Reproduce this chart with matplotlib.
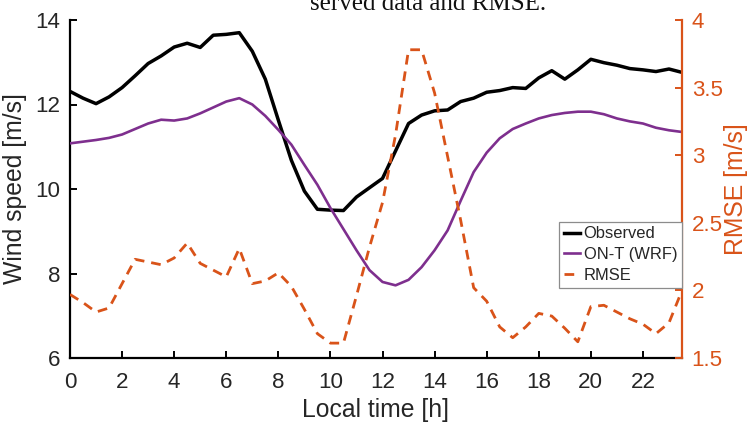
import matplotlib
matplotlib.use("Agg")
import matplotlib.pyplot as plt
from matplotlib import font_manager

names = {f.name for f in font_manager.fontManager.ttflist}
SANS = 'Liberation Sans Narrow' if 'Liberation Sans Narrow' in names else 'Liberation Sans'
NARROW = SANS == 'Liberation Sans Narrow'

# ---- data (half-hourly, local time) ----
hours = [i * 0.5 for i in range(48)]
observed = [12.31, 12.15, 12.02, 12.18, 12.40, 12.68, 12.97, 13.15, 13.36, 13.45,
            13.35, 13.64, 13.66, 13.70, 13.26, 12.60, 11.63, 10.68, 9.95, 9.52,
            9.50, 9.49, 9.81, 10.03, 10.25, 10.90, 11.55, 11.75, 11.85, 11.87,
            12.07, 12.15, 12.29, 12.33, 12.40, 12.38, 12.63, 12.80, 12.60, 12.82,
            13.07, 12.99, 12.93, 12.85, 12.82, 12.78, 12.84, 12.76]
on_t_wrf = [11.08, 11.12, 11.16, 11.21, 11.29, 11.42, 11.55, 11.64, 11.62, 11.67,
            11.79, 11.93, 12.07, 12.15, 12.00, 11.73, 11.40, 11.05, 10.57, 10.10,
            9.55, 9.05, 8.55, 8.08, 7.80, 7.72, 7.85, 8.15, 8.55, 9.02,
            9.72, 10.40, 10.86, 11.20, 11.42, 11.55, 11.67, 11.75, 11.80, 11.83,
            11.83, 11.77, 11.67, 11.60, 11.55, 11.45, 11.39, 11.35]
rmse = [1.97, 1.91, 1.84, 1.87, 2.05, 2.23, 2.21, 2.19, 2.24, 2.35,
        2.20, 2.15, 2.10, 2.31, 2.05, 2.07, 2.13, 2.03, 1.86, 1.68,
        1.61, 1.61, 1.96, 2.32, 2.65, 3.15, 3.78, 3.78, 3.46, 2.99,
        2.52, 2.02, 1.92, 1.73, 1.65, 1.73, 1.83, 1.81, 1.72, 1.62,
        1.88, 1.89, 1.84, 1.79, 1.75, 1.68, 1.76, 2.00]
x_ticks = list(range(0, 24, 2))
left_ticks = [6, 8, 10, 12, 14]
right_ticks = [1.5, 2, 2.5, 3, 3.5, 4]
right_tick_labels = ['1.5', '2', '2.5', '3', '3.5', '4']
caption = 'served data and RMSE.'

BLACK = '#000000'
PURPLE = '#7E2F8E'
ORANGE = '#D95319'
TXT = '#262626'

k = 1.0 if NARROW else 0.85
tick_fs = 19 * k
label_fs = 21 * k
leg_fs = 14 * k

fig = plt.figure(figsize=(7.51, 4.25), dpi=100)
ax = fig.add_axes([70 / 751, 1 - 358 / 425, (682 - 70) / 751, (358 - 20) / 425])
ax2 = ax.twinx()

l1, = ax.plot(hours, observed, color=BLACK, lw=2.5, label='Observed', zorder=3)
l2, = ax.plot(hours, on_t_wrf, color=PURPLE, lw=1.9, label='ON-T (WRF)', zorder=3)
l3, = ax2.plot(hours, rmse, color=ORANGE, lw=2.0, ls='--', label='RMSE')
l3.set_dashes([3.5, 2.5])

ax.set_xlim(0, 23.5)
ax.set_ylim(6, 14)
ax2.set_ylim(1.5, 4)
ax.set_xticks(x_ticks)
ax.set_yticks(left_ticks)
ax2.set_yticks(right_ticks)
ax2.set_yticklabels(right_tick_labels)

for a in (ax, ax2):
    a.spines['top'].set_visible(False)
    for lab in a.get_xticklabels() + a.get_yticklabels():
        lab.set_family([SANS, 'DejaVu Sans'])
ax.spines['right'].set_visible(False)
ax2.spines['left'].set_visible(False)
ax2.spines['bottom'].set_visible(False)
for s in ('left', 'bottom'):
    ax.spines[s].set_linewidth(1.6)
    ax.spines[s].set_color(BLACK)
ax2.spines['right'].set_linewidth(1.6)
ax2.spines['right'].set_color(ORANGE)

ax.tick_params(axis='both', direction='in', length=5, width=1.4, colors=BLACK,
               labelsize=tick_fs, labelcolor=TXT, pad=7)
ax.tick_params(axis='x', pad=10)
ax2.tick_params(axis='y', direction='in', length=5, width=1.4, colors=ORANGE,
                labelsize=tick_fs, labelcolor=ORANGE, pad=7)

ax.set_xlabel('Local time [h]', fontsize=label_fs, color=TXT, family=[SANS, 'DejaVu Sans'], labelpad=4)
ax.set_ylabel('Wind speed [m/s]', fontsize=label_fs, color=TXT, family=[SANS, 'DejaVu Sans'], labelpad=6)
ax2.set_ylabel('RMSE [m/s]', fontsize=label_fs, color=ORANGE, family=[SANS, 'DejaVu Sans'], labelpad=1)

leg = ax2.legend(handles=[l1, l2, l3], loc='lower right',
                 bbox_to_anchor=(1.0, (358 - 288) / 338), frameon=True, fancybox=False,
                 framealpha=1, edgecolor='#8c8c8c', handlelength=1.0, handletextpad=0.2,
                 borderpad=0.3, labelspacing=0.35, borderaxespad=0.0,
                 prop={'family': [SANS, 'DejaVu Sans'], 'size': leg_fs})
leg.get_frame().set_linewidth(0.9)
for t in leg.get_texts():
    t.set_color(TXT)

fig.text(0.570, 0.977, caption, ha='center', va='baseline', fontsize=18,
         family=['Liberation Serif', 'DejaVu Serif'], color='#111111')

fig.savefig('out.png', dpi=100)
